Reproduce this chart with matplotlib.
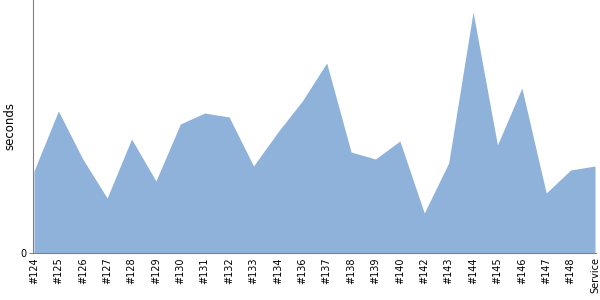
import matplotlib
matplotlib.use("Agg")
import matplotlib.pyplot as plt

labels = ["#124", "#125", "#126", "#127", "#128", "#129", "#130", "#131", "#132",
          "#133", "#134", "#136", "#137", "#138", "#139", "#140", "#142", "#143",
          "#144", "#145", "#146", "#147", "#148", "Service"]
values = [82, 142, 94, 55, 114, 72, 129, 140, 136, 87, 121, 152, 190, 101, 94,
          112, 40, 90, 241, 108, 165, 60, 83, 87]

fig = plt.figure(figsize=(6, 3), dpi=100)
ax = fig.add_axes([33/600, 47/300, 563/600, 253/300])
x = list(range(len(labels)))
ax.fill_between(x, values, 0, color="#8fb2db", linewidth=0)
ax.set_xlim(-0.04, len(labels) - 1 + 0.04)
ax.set_ylim(0, 253)
ax.set_xticks(x)
ax.set_xticklabels(labels, rotation=90, fontsize=7)
ax.set_yticks([0])
ax.set_yticklabels(["0"], fontsize=7)
ax.tick_params(axis="x", length=0, pad=3)
ax.tick_params(axis="y", length=3, color="#808080", pad=2)
for s in ["top", "right"]:
    ax.spines[s].set_visible(False)
for s in ["left", "bottom"]:
    ax.spines[s].set_color("#808080")
fig.text(10/600, 1 - 126/300, "seconds", rotation=90, fontsize=8.5,
         ha="center", va="center")
fig.savefig("out.png", dpi=100)
